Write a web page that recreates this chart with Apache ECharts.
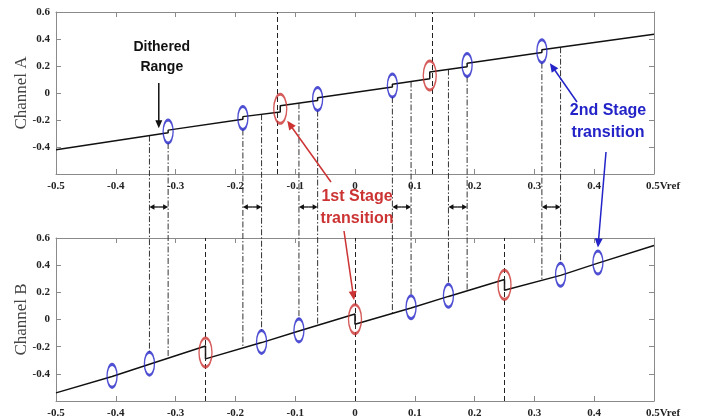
<!DOCTYPE html>
<html><head><meta charset="utf-8">
<script src="https://cdn.jsdelivr.net/npm/echarts@6/dist/echarts.min.js"></script>
<style>html,body{margin:0;padding:0;background:#fff}#c{width:701px;height:419px}</style>
</head><body><div id="c"></div>
<script>
// ---- Channel A (top) staircase ----
const aStart = [-0.5, -0.42];
const aEnd = [0.5, 0.435];
const aStepX = [-0.3125, -0.1875, -0.125, -0.0625, 0.0625, 0.125, 0.1875, 0.3125];
const aBefore = [-0.295, -0.195, -0.14, -0.055, 0.045, 0.105, 0.195, 0.30];
const aAfter = [-0.275, -0.175, -0.095, -0.035, 0.065, 0.155, 0.22, 0.32];
const aRed = [-0.125, 0.125];
// ---- Channel B (bottom) staircase ----
const bStart = [-0.5, -0.54];
const bEnd = [0.5, 0.545];
const bStepX = [-0.40625, -0.34375, -0.25, -0.15625, -0.09375, 0, 0.09375, 0.15625, 0.25, 0.34375, 0.40625];
const bBefore = [-0.42, -0.33, -0.195, -0.17, -0.085, 0.04, 0.085, 0.17, 0.295, 0.325, 0.415];
const bAfter = [-0.41, -0.32, -0.29, -0.16, -0.075, -0.035, 0.095, 0.18, 0.215, 0.335, 0.425];
const bRed = [-0.25, 0, 0.25];
// dithered ranges: top-channel transition paired with bottom-channel transition
const ditherTop = [-0.3125, -0.1875, -0.0625, 0.0625, 0.1875, 0.3125];
const ditherBot = [-0.34375, -0.15625, -0.09375, 0.09375, 0.15625, 0.34375];
// axes
const xTicks = [-0.5, 0.5, 0.1];
const yTicks = [-0.6, 0.6, 0.2];

function buildLine(start, stepX, before, after, end) {
  const d = [start.slice()];
  stepX.forEach((x, i) => { d.push([x, before[i]]); d.push([x, after[i]]); });
  d.push(end.slice());
  return d;
}
function mids(stepX, before, after, sel) {
  return stepX.map((x, i) => [x, (before[i] + after[i]) / 2]).filter(p => sel(p[0]));
}
function levelAt(line, x) {
  for (let i = 0; i < line.length - 1; i++) {
    const a = line[i], b = line[i + 1];
    if (b[0] > a[0] && x >= a[0] && x <= b[0]) return a[1] + (b[1] - a[1]) * (x - a[0]) / (b[0] - a[0]);
  }
  return 0;
}
const lineA = buildLine(aStart, aStepX, aBefore, aAfter, aEnd);
const lineB = buildLine(bStart, bStepX, bBefore, bAfter, bEnd);
const isRedA = x => aRed.indexOf(x) >= 0;
const isRedB = x => bRed.indexOf(x) >= 0;
const circA_blue = mids(aStepX, aBefore, aAfter, x => !isRedA(x));
const circA_red = mids(aStepX, aBefore, aAfter, isRedA);
const circB_blue = mids(bStepX, bBefore, bAfter, x => !isRedB(x));
const circB_red = mids(bStepX, bBefore, bAfter, isRedB);

const BLUE = '#2323c8', RED = '#cc3333';
const labelFont = {fontFamily: "'Liberation Serif','Times New Roman',serif", fontWeight: 'bold', fontSize: 11, color: '#222'};
const axisGray = '#8a8a8a';

function xAxisDef(grid, pos, show) {
  return {
    type: 'value', gridIndex: grid, position: pos, min: xTicks[0], max: xTicks[1], interval: xTicks[2],
    axisLine: {onZero: false, lineStyle: {color: axisGray, width: 1}},
    axisTick: {inside: true, length: 5, lineStyle: {color: axisGray}},
    splitLine: {show: false},
    axisLabel: show ? Object.assign({
      margin: 7,
      formatter: v => Math.abs(v - 0.5) < 1e-9 ? '{r|0.5Vref}' : String(+v.toFixed(1)),
      rich: {r: Object.assign({padding: [0, 0, 0, 18]}, labelFont)}
    }, labelFont) : {show: false}
  };
}
function yAxisDef(grid, pos, name) {
  return {
    type: 'value', gridIndex: grid, position: pos, min: yTicks[0], max: yTicks[1], interval: yTicks[2],
    axisLine: {onZero: false, lineStyle: {color: axisGray, width: 1}},
    axisTick: {inside: true, length: 5, lineStyle: {color: axisGray}},
    splitLine: {show: false},
    name: name || '', nameLocation: 'middle', nameGap: 26, nameRotate: 90, nameMoveOverlap: false,
    nameTextStyle: {fontFamily: "'Liberation Serif','Times New Roman',serif", fontSize: 17, color: '#444'},
    axisLabel: name ? Object.assign({
      margin: 6,
      formatter: v => Math.abs(v - yTicks[0]) < 1e-9 ? '' : String(+v.toFixed(1))
    }, labelFont) : {show: false}
  };
}
function circles(grid, data, color, size) {
  return {
    type: 'scatter', xAxisIndex: grid * 2, yAxisIndex: grid * 2, data: data,
    symbol: 'circle', symbolSize: size, silent: true, z: 5,
    itemStyle: {color: 'rgba(0,0,0,0)', borderColor: color, borderWidth: 2}
  };
}
function stair(grid, data, reds) {
  return {
    type: 'line', xAxisIndex: grid * 2, yAxisIndex: grid * 2, data: data, showSymbol: false, symbol: 'none',
    lineStyle: {color: '#111', width: 1.5}, silent: true, z: 4,
    markLine: {symbol: 'none', silent: true, label: {show: false},
      lineStyle: {color: '#222', width: 1, type: [5, 3]},
      data: reds.map(x => ({xAxis: x}))}
  };
}

const chart = echarts.init(document.getElementById('c'), null, {renderer: 'canvas'});
chart.setOption({
  animation: false,
  backgroundColor: '#fff',
  grid: [
    {left: 56, right: 47, top: 12, height: 162},
    {left: 56, right: 47, top: 238, height: 163}
  ],
  xAxis: [xAxisDef(0, 'bottom', true), xAxisDef(0, 'top', false), xAxisDef(1, 'bottom', true), xAxisDef(1, 'top', false)],
  yAxis: [yAxisDef(0, 'left', 'Channel A'), yAxisDef(0, 'right'), yAxisDef(1, 'left', 'Channel B'), yAxisDef(1, 'right')],
  series: [
    stair(0, lineA, aRed), stair(1, lineB, bRed),
    circles(0, circA_blue, BLUE, [10, 23]), circles(0, circA_red, RED, [13, 29]),
    circles(1, circB_blue, BLUE, [10, 23]), circles(1, circB_red, RED, [13, 29])
  ]
});

// ---- overlay: connectors, arrows and annotations (positions from the axes) ----
const p0 = (x, y) => chart.convertToPixel({gridIndex: 0}, [x, y]);
const p1 = (x, y) => chart.convertToPixel({gridIndex: 1}, [x, y]);
const g = [];
const DASHDOT = [6, 2, 1.5, 2];
function seg(x1, y1, x2, y2, color, w, dash) {
  g.push({type: 'line', silent: true, z: 3, shape: {x1, y1, x2, y2},
    style: {stroke: color, lineWidth: w, lineDash: dash || null}});
}
function head(xt, yt, xf, yf, color, len, hw) {
  const dx = xt - xf, dy = yt - yf, L = Math.hypot(dx, dy), ux = dx / L, uy = dy / L;
  const bx = xt - ux * len, by = yt - uy * len;
  g.push({type: 'polygon', silent: true, z: 6, shape: {points: [[xt, yt], [bx - uy * hw, by + ux * hw], [bx + uy * hw, by - ux * hw]]},
    style: {fill: color}});
}
function arrow(x1, y1, x2, y2, color, w, len, hw) {
  const dx = x2 - x1, dy = y2 - y1, L = Math.hypot(dx, dy);
  seg(x1, y1, x2 - dx / L * len * 0.8, y2 - dy / L * len * 0.8, color, w);
  head(x2, y2, x1, y1, color, len, hw);
}
function text(x, y, str, color, size) {
  g.push({type: 'text', silent: true, z: 7, x: x, y: y,
    style: {text: str, fill: color, font: 'bold ' + size + "px 'Liberation Sans', Arial, sans-serif",
      align: 'center', verticalAlign: 'middle', textAlign: 'center', textVerticalAlign: 'middle', lineHeight: size + 6}});
}
const HALF = 11.5;
const bottom0 = p0(0, yTicks[0])[1];
const arrowY = bottom0 + 33;
ditherTop.forEach((t, i) => {
  const b = ditherBot[i];
  const tc = p0(t, levelAt(lineA, t - 1e-6) / 2 + levelAt(lineA, t + 1e-6) / 2);
  const tb = p1(t, levelAt(lineB, t));
  seg(tc[0], tc[1] + HALF, tb[0], tb[1], '#333', 1, DASHDOT);
  const bt = p0(b, levelAt(lineA, b));
  const bc = p1(b, levelAt(lineB, b - 1e-6) / 2 + levelAt(lineB, b + 1e-6) / 2);
  seg(bt[0], bt[1], bc[0], bc[1] - HALF, '#333', 1, DASHDOT);
  const xa = Math.min(tc[0], bt[0]), xb = Math.max(tc[0], bt[0]);
  const mid = (xa + xb) / 2;
  arrow(mid, arrowY, xa, arrowY, '#111', 1.3, 5, 2.8);
  arrow(mid, arrowY, xb, arrowY, '#111', 1.3, 5, 2.8);
});

// Dithered Range label + arrow
const dr = p0((ditherTop[0] + ditherBot[0]) / 2, levelAt(lineA, (ditherTop[0] + ditherBot[0]) / 2));
text(dr[0] + 3, 57, 'Dithered\nRange', '#111', 14);
arrow(dr[0], 83, dr[0], dr[1] - 6, '#111', 1.5, 8, 3.5);

// 1st stage transition
text(357, 208, '1st Stage\ntransition', RED, 16);
const r1 = p0(aRed[0], (aBefore[2] + aAfter[2]) / 2);
arrow(331, 182, r1[0] + 7, r1[1] + 12, RED, 1.5, 9, 4);
const r2 = p1(bRed[1], (bBefore[5] + bAfter[5]) / 2);
arrow(344, 231, r2[0] - 1, r2[1] - 19, RED, 1.5, 9, 4);

// 2nd stage transition
text(608, 122, '2nd Stage\ntransition', BLUE, 16);
const s1 = p0(aStepX[7], (aBefore[7] + aAfter[7]) / 2);
arrow(577, 102, s1[0] + 8, s1[1] + 12, BLUE, 1.5, 9, 4);
const s2 = p1(bStepX[10], (bBefore[10] + bAfter[10]) / 2);
arrow(606, 152, s2[0], s2[1] - 15, BLUE, 1.5, 9, 4);

chart.setOption({graphic: {elements: g}});
</script>
</body></html>
